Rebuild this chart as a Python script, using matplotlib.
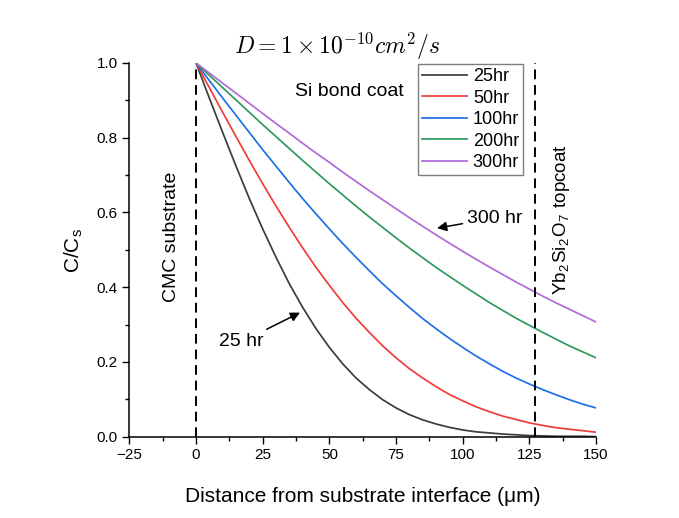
import matplotlib
matplotlib.use("Agg")
import matplotlib.pyplot as plt

plt.rcParams['font.family'] = ['Liberation Sans', 'DejaVu Sans']
plt.rcParams['mathtext.fontset'] = 'cm'

# ====== DATA (step 5 um) ======
x_um = list(range(0, 151, 5))
c_25hr = [1.0, 0.906, 0.814, 0.724, 0.637, 0.556, 0.48, 0.409, 0.346, 0.289, 0.239,
          0.195, 0.157, 0.126, 0.099, 0.077, 0.059, 0.045, 0.034, 0.025, 0.018,
          0.013, 0.01, 0.007, 0.005, 0.003, 0.002, 0.001, 0.001, 0.001, 0.0]
c_50hr = [1.0, 0.934, 0.868, 0.803, 0.739, 0.677, 0.617, 0.56, 0.505, 0.453, 0.405,
          0.359, 0.317, 0.279, 0.243, 0.211, 0.182, 0.157, 0.134, 0.113, 0.096,
          0.08, 0.067, 0.055, 0.046, 0.037, 0.03, 0.024, 0.02, 0.016, 0.012]
c_100hr = [1.0, 0.953, 0.906, 0.86, 0.814, 0.768, 0.724, 0.68, 0.637, 0.596, 0.556,
           0.517, 0.48, 0.444, 0.409, 0.377, 0.346, 0.316, 0.289, 0.263, 0.239,
           0.216, 0.195, 0.175, 0.157, 0.141, 0.126, 0.112, 0.099, 0.087, 0.077]
c_200hr = [1.0, 0.967, 0.934, 0.901, 0.868, 0.835, 0.803, 0.771, 0.739, 0.708, 0.677,
           0.647, 0.617, 0.588, 0.56, 0.532, 0.505, 0.479, 0.453, 0.429, 0.405,
           0.382, 0.359, 0.338, 0.317, 0.298, 0.279, 0.261, 0.243, 0.227, 0.211]
c_300hr = [1.0, 0.973, 0.946, 0.919, 0.892, 0.865, 0.838, 0.812, 0.785, 0.759, 0.734,
           0.708, 0.683, 0.658, 0.634, 0.61, 0.586, 0.563, 0.54, 0.518, 0.496,
           0.475, 0.454, 0.434, 0.414, 0.395, 0.376, 0.358, 0.341, 0.324, 0.307]
labels = ["25hr", "50hr", "100hr", "200hr", "300hr"]
colors = ["#3c3c3c", "#f03c3c", "#1f6fe6", "#2f9a5c", "#b06ad8"]
substrate_x = 0
topcoat_x = 127
# ==================================================

fig = plt.figure(figsize=(6.79, 5.18), dpi=100)
ax = fig.add_axes([0.1905, 0.157, 0.6873, 0.7214])

for ys, lab, col in zip([c_25hr, c_50hr, c_100hr, c_200hr, c_300hr], labels, colors):
    ax.plot(x_um, ys, color=col, lw=1.25, label=lab)

# layer boundaries
ax.plot([substrate_x, substrate_x], [0, 0.99], color="black", lw=1.4, ls=(0, (5, 3)))
ax.plot([topcoat_x, topcoat_x], [0, 1.0], color="black", lw=1.4, ls=(0, (5, 3)))

ax.set_xlim(-25, 150)
ax.set_ylim(0, 1.0)
ax.set_xticks([-25, 0, 25, 50, 75, 100, 125, 150])
ax.set_xticks([-12.5, 12.5, 37.5, 62.5, 87.5, 112.5, 137.5], minor=True)
ax.set_yticks([0.0, 0.2, 0.4, 0.6, 0.8, 1.0])
ax.set_yticks([0.1, 0.3, 0.5, 0.7, 0.9], minor=True)
ax.tick_params(which='major', direction='out', length=5, width=1, labelsize=11)
ax.tick_params(which='minor', direction='out', length=3, width=1)
ax.spines['top'].set_visible(False)
ax.spines['right'].set_visible(False)
for s in ['left', 'bottom']:
    ax.spines[s].set_linewidth(1.1)

ax.set_xlabel("Distance from substrate interface (\u03bcm)", fontsize=15, labelpad=18)
ax.set_ylabel("C/C$_\\mathregular{s}$", fontsize=15, labelpad=8)

fig.text(0.497, 0.911, r"$D = 1 \times 10^{-10} cm^2/s$", fontsize=17,
         ha='center', va='center')

leg = ax.legend(loc='upper right', bbox_to_anchor=(0.8436, 0.997), borderaxespad=0,
                fontsize=13, handlelength=2.5, handletextpad=0.33, labelspacing=0.25,
                borderpad=0.22, fancybox=False, framealpha=1, edgecolor="#7f7f7f")
leg.get_frame().set_linewidth(1.0)

ax.text(57.4, 0.923, "Si bond coat", fontsize=14, ha='center', va='center')
ax.text(-9.1, 0.534, "CMC substrate", fontsize=14, rotation=90, ha='center', va='center')
ax.text(136.9, 0.58, "Yb$_\\mathregular{2}$Si$_\\mathregular{2}$O$_\\mathregular{7}$ topcoat",
        fontsize=13.5, rotation=90, ha='center', va='center')

ax.annotate("25 hr", xy=(39.0, 0.332), xytext=(17.1, 0.254), fontsize=14,
            ha='center', va='center',
            arrowprops=dict(arrowstyle='-|>', color='black', lw=1.1, mutation_scale=14,
                            shrinkA=2, shrinkB=0))
ax.annotate("300 hr", xy=(90.4, 0.558), xytext=(101.5, 0.585), fontsize=14,
            ha='left', va='center',
            arrowprops=dict(arrowstyle='-|>', color='black', lw=1.1, mutation_scale=14,
                            shrinkA=1, shrinkB=0))

fig.savefig("out.png", dpi=100)
